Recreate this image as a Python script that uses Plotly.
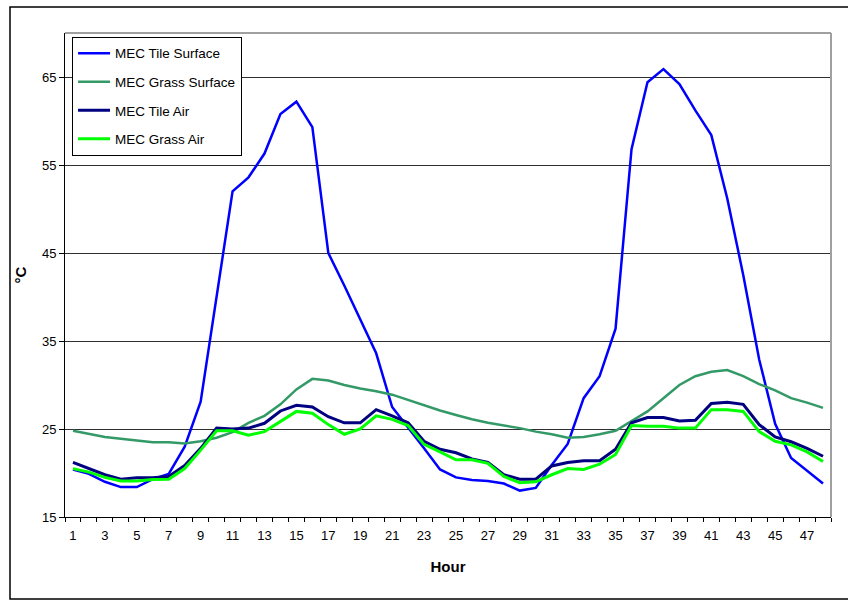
import plotly.graph_objects as go

hours = list(range(1, 49))

tile_surface = [20.4, 19.9, 19.0, 18.4, 18.4, 19.3, 19.9, 23.0, 28.1, 40.0,
                52.0, 53.6, 56.3, 60.8, 62.2, 59.3, 45.0, 41.3, 37.5, 33.6,
                27.5, 25.2, 22.8, 20.4, 19.5, 19.2, 19.1, 18.8, 18.0, 18.3,
                20.9, 23.3, 28.5, 31.0, 36.4, 56.8, 64.4, 65.9, 64.2, 61.2,
                58.4, 51.2, 42.5, 32.9, 25.6, 21.7, 20.3, 18.8]

grass_surface = [24.8, 24.45, 24.1, 23.9, 23.7, 23.5, 23.5, 23.35, 23.6, 24.0,
                 24.65, 25.7, 26.5, 27.8, 29.5, 30.7, 30.5, 30.0, 29.6, 29.3,
                 28.9, 28.3, 27.75, 27.1, 26.6, 26.1, 25.7, 25.4, 25.1, 24.7,
                 24.4, 24.0, 24.1, 24.4, 24.8, 25.9, 27.0, 28.5, 30.0, 31.0,
                 31.5, 31.7, 31.0, 30.1, 29.4, 28.5, 28.0, 27.4]

tile_air = [21.2, 20.5, 19.8, 19.3, 19.45, 19.45, 19.6, 20.85, 22.8, 25.1,
            25.0, 25.1, 25.65, 27.05, 27.7, 27.5, 26.4, 25.7, 25.7, 27.2,
            26.5, 25.7, 23.6, 22.7, 22.3, 21.6, 21.2, 19.8, 19.3, 19.3,
            20.8, 21.2, 21.4, 21.4, 22.7, 25.7, 26.3, 26.3, 25.9, 26.0,
            27.9, 28.05, 27.8, 25.5, 24.1, 23.55, 22.8, 21.9]

grass_air = [20.5, 20.1, 19.5, 19.1, 19.1, 19.25, 19.3, 20.5, 22.6, 24.8,
             24.8, 24.3, 24.7, 25.9, 27.0, 26.8, 25.5, 24.4, 25.0, 26.5,
             26.1, 25.4, 23.25, 22.4, 21.5, 21.5, 21.1, 19.6, 18.9, 19.0,
             19.8, 20.5, 20.4, 21.0, 22.1, 25.4, 25.3, 25.3, 25.1, 25.1,
             27.2, 27.2, 27.0, 24.7, 23.6, 23.2, 22.4, 21.3]

series = [
    ("MEC Tile Surface", tile_surface, "#0000FF", 2.5),
    ("MEC Grass Surface", grass_surface, "#339966", 2.5),
    ("MEC Tile Air", tile_air, "#000080", 3),
    ("MEC Grass Air", grass_air, "#00FF00", 3),
]

x_tick_vals = list(range(1, 48, 2))
y_tick_vals = [15, 25, 35, 45, 55, 65]

fig = go.Figure()
for name, vals, color, w in series:
    fig.add_trace(go.Scatter(x=hours, y=vals, mode="lines", name=name,
                             legendgroup=name,
                             line=dict(color=color, width=w)))

font_family = "Liberation Sans, Arial, sans-serif"

fig.update_layout(
    width=848, height=601,
    margin=dict(l=65, r=17, t=33, b=84),
    paper_bgcolor="white", plot_bgcolor="white",
    font=dict(family=font_family, size=13, color="black"),
    showlegend=True,
    legend=dict(x=0.0092, y=0.992, xanchor="left", yanchor="top",
                bgcolor="white", bordercolor="black", borderwidth=1,
                font=dict(size=13.5, family=font_family, color="black"),
                tracegroupgap=8, itemwidth=32),
    xaxis=dict(range=[0.5, 48.5], tickmode="array", tickvals=x_tick_vals,
               ticks="", showgrid=False, zeroline=False,
               showline=True, linecolor="black", linewidth=1,
               tickfont=dict(size=13), ticklabelstandoff=6,
               minor=dict(tick0=0.5, dtick=1, ticks="outside", ticklen=4,
                          tickcolor="black", showgrid=False),
               title=dict(text="<b>Hour</b>", font=dict(size=15), standoff=19)),
    yaxis=dict(range=[15, 70], tickmode="array", tickvals=y_tick_vals,
               ticks="outside", ticklen=5, tickcolor="black",
               showgrid=True, gridcolor="#303030", gridwidth=1,
               zeroline=False, showline=True, linecolor="black", linewidth=1,
               tickfont=dict(size=13),
               title=dict(text="<b>°C</b>", font=dict(size=15), standoff=11)),
    shapes=[
        dict(type="line", xref="paper", yref="paper", x0=0, x1=1, y0=1, y1=1,
             line=dict(color="#a0a0a0", width=2)),
        dict(type="line", xref="paper", yref="paper", x0=1, x1=1, y0=0, y1=1,
             line=dict(color="#a0a0a0", width=2)),
        dict(type="rect", xref="paper", yref="paper",
             x0=-0.0718, x1=1.03, y0=-0.1694, y1=1.0537,
             line=dict(color="black", width=1.5), layer="below"),
    ],
)

fig.write_html("out.html", config={"displayModeBar": False},
               post_script="document.body.style.margin='0';document.body.style.padding='0';")
